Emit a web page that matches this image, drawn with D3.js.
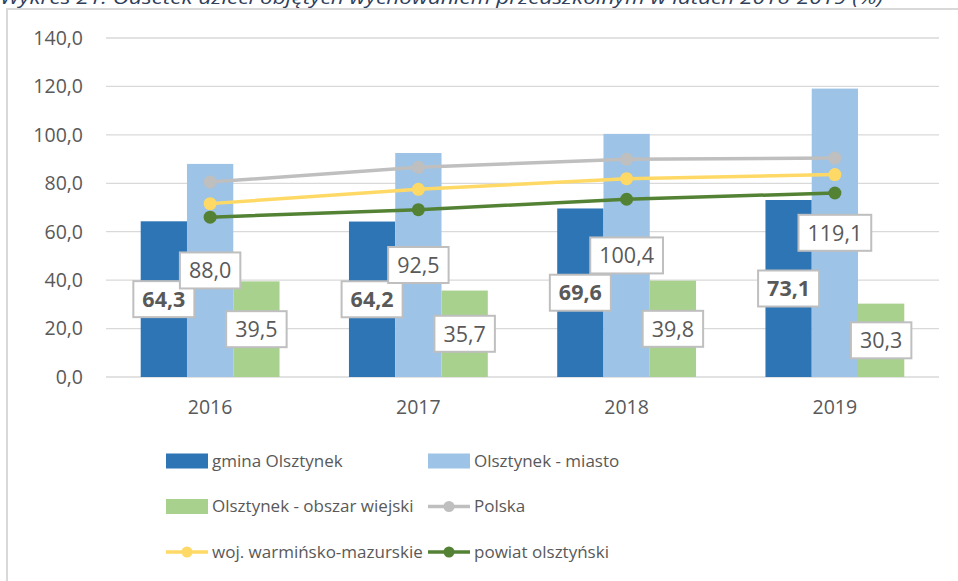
<!DOCTYPE html>
<html>
<head>
<meta charset="utf-8">
<script src="https://cdn.jsdelivr.net/npm/d3@7"></script>
<style>
  body { margin: 0; background: #fff; }
  svg { display: block; font-family: "Open Sans", "Liberation Sans", sans-serif; }
</style>
</head>
<body>
<svg width="958" height="581"></svg>
<script>
const width = 958,
    height = 581,
    margin = ({ top: 38, right: 19, bottom: 204, left: 106 });

const years = ["2016", "2017", "2018", "2019"];
const barNames = ["gmina Olsztynek", "Olsztynek - miasto", "Olsztynek - obszar wiejski"];
const gmina = [64.3, 64.2, 69.6, 73.1];
const miasto = [88.0, 92.5, 100.4, 119.1];
const wies = [39.5, 35.7, 39.8, 30.3];
const lineNames = ["Polska", "woj. warmińsko-mazurskie", "powiat olsztyński"];
const polska = [80.5, 86.6, 89.9, 90.4];
const woj = [71.6, 77.5, 81.9, 83.6];
const powiat = [66.0, 69.1, 73.4, 76.0];
const yTicks = [0, 20, 40, 60, 80, 100, 120, 140];

const barColors = ["#2e75b6", "#9dc3e6", "#a9d18e"];
const lineColors = ["#bfbfbf", "#ffd966", "#548235"];
const barValues = [gmina, miasto, wies];
const lineValues = [polska, woj, powiat];

const fmt = v => d3.format(".1f")(v).replace(".", ",");

const svg = d3.select("svg");

// title, cut off at the top like in the source
svg.append("text")
    .attr("x", 0)
    .attr("y", 4)
    .attr("textLength", 883)
    .attr("lengthAdjust", "spacingAndGlyphs")
    .style("font-size", "19px")
    .style("font-style", "italic")
    .style("fill", "#2f3f5c")
    .text("Wykres 21. Odsetek dzieci objętych wychowaniem przedszkolnym w latach 2016-2019 (%)");

// frame
svg.append("path")
    .attr("d", `M7,${height} V9 H${width}`)
    .attr("fill", "none")
    .attr("stroke", "#d9d9d9")
    .attr("stroke-width", 2);

const x0 = d3.scaleBand()
    .domain(years)
    .range([margin.left, width - margin.right]);

const x1 = d3.scaleBand()
    .domain(barNames)
    .range([0, x0.bandwidth()])
    .paddingInner(0)
    .paddingOuter(0.75);

const y = d3.scaleLinear()
    .domain([0, 140])
    .range([height - margin.bottom, margin.top]);

// grid
svg.append("g")
    .selectAll("line")
    .data(yTicks)
    .join("line")
    .attr("x1", margin.left)
    .attr("x2", width - margin.right)
    .attr("y1", d => y(d))
    .attr("y2", d => y(d))
    .attr("stroke", "#d9d9d9")
    .attr("stroke-width", 1.3);

svg.append("g")
    .selectAll("text")
    .data(yTicks)
    .join("text")
    .attr("x", 83)
    .attr("y", d => y(d))
    .attr("dy", "0.35em")
    .attr("text-anchor", "end")
    .style("font-size", "19.5px")
    .style("fill", "#595959")
    .text(d => fmt(d));

svg.append("g")
    .selectAll("text")
    .data(years)
    .join("text")
    .attr("x", d => x0(d) + x0.bandwidth() / 2)
    .attr("y", 414)
    .attr("text-anchor", "middle")
    .style("font-size", "19.5px")
    .style("fill", "#595959")
    .text(d => d);

// bars
const barData = [];
barNames.forEach((name, i) => {
    years.forEach((yr, j) => {
        barData.push({ name, i, yr, v: barValues[i][j] });
    });
});

svg.append("g")
    .selectAll("rect")
    .data(barData)
    .join("rect")
    .attr("x", d => x0(d.yr) + x1(d.name))
    .attr("y", d => y(d.v))
    .attr("width", x1.bandwidth())
    .attr("height", d => y(0) - y(d.v))
    .attr("fill", d => barColors[d.i]);

// lines
const line = d3.line()
    .x((d, j) => x0(years[j]) + x0.bandwidth() / 2)
    .y(d => y(d));

lineValues.forEach((vals, i) => {
    const g = svg.append("g");
    g.append("path")
        .attr("d", line(vals))
        .attr("fill", "none")
        .attr("stroke", lineColors[i])
        .attr("stroke-width", 3.5);
    g.selectAll("circle")
        .data(vals)
        .join("circle")
        .attr("cx", (d, j) => x0(years[j]) + x0.bandwidth() / 2)
        .attr("cy", d => y(d))
        .attr("r", 6.5)
        .attr("fill", lineColors[i]);
});

// data labels, centred on bars
const labels = svg.append("g")
    .selectAll("g")
    .data(barData)
    .join("g")
    .attr("transform", d => `translate(${x0(d.yr) + x1(d.name) + x1.bandwidth() / 2},${(y(d.v) + y(0)) / 2})`);

labels.append("rect")
    .attr("fill", "#fff")
    .attr("stroke", "#bfbfbf")
    .attr("stroke-width", 2);

labels.append("text")
    .attr("text-anchor", "middle")
    .attr("dy", "0.36em")
    .style("font-size", "21.5px")
    .style("font-weight", d => d.i === 0 ? "bold" : "normal")
    .style("fill", "#595959")
    .text(d => fmt(d.v));

labels.each(function () {
    const g = d3.select(this);
    const bb = g.select("text").node().getBBox();
    g.select("rect")
        .attr("x", -bb.width / 2 - 9)
        .attr("y", -18)
        .attr("width", bb.width + 18)
        .attr("height", 36);
});

// legend
const legendItems = [
    { name: barNames[0], type: "bar", color: barColors[0] },
    { name: barNames[1], type: "bar", color: barColors[1] },
    { name: barNames[2], type: "bar", color: barColors[2] },
    { name: lineNames[0], type: "line", color: lineColors[0] },
    { name: lineNames[1], type: "line", color: lineColors[1] },
    { name: lineNames[2], type: "line", color: lineColors[2] }
];

const legend = svg.append("g")
    .selectAll("g")
    .data(legendItems)
    .join("g")
    .attr("transform", (d, i) => `translate(${i % 2 === 0 ? 166 : 428},${461 + Math.floor(i / 2) * 45.5})`);

legend.filter(d => d.type === "bar")
    .append("rect")
    .attr("x", 0)
    .attr("y", -7.5)
    .attr("width", 42)
    .attr("height", 15)
    .attr("fill", d => d.color);

legend.filter(d => d.type === "line")
    .append("line")
    .attr("x1", 0)
    .attr("x2", 42)
    .attr("stroke", d => d.color)
    .attr("stroke-width", 3.5);

legend.filter(d => d.type === "line")
    .append("circle")
    .attr("cx", 21)
    .attr("r", 5.5)
    .attr("fill", d => d.color);

legend.append("text")
    .attr("x", 46)
    .attr("dy", "0.35em")
    .style("font-size", "17px")
    .style("fill", "#595959")
    .text(d => d.name);
</script>
</body>
</html>
